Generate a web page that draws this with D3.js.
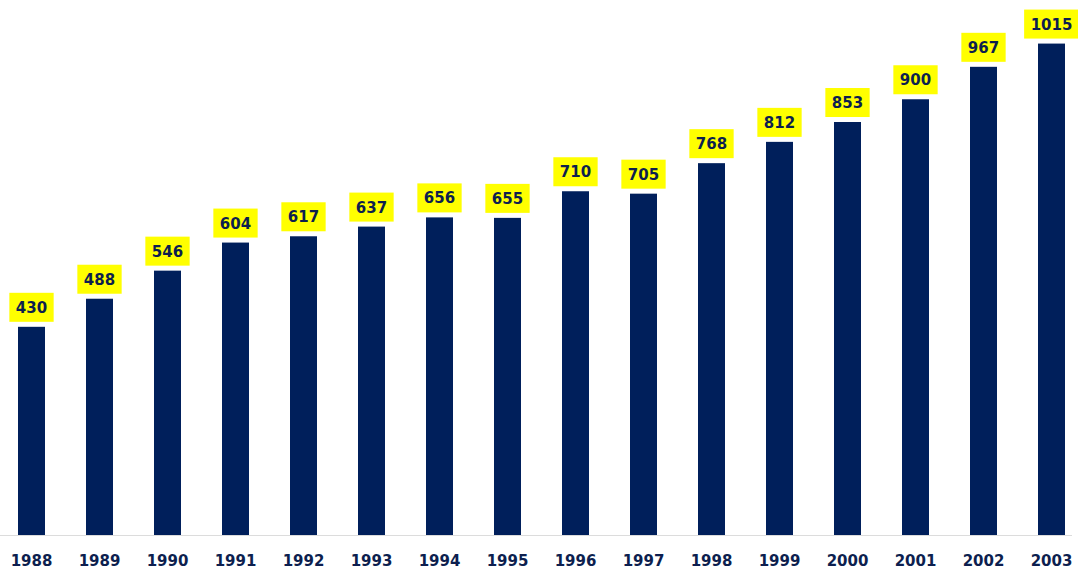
<!DOCTYPE html>
<html>
<head>
<meta charset="utf-8">
<script src="https://cdn.jsdelivr.net/npm/d3@7"></script>
<style>
  html, body { margin: 0; padding: 0; background: #ffffff; }
  svg { display: block; }
</style>
</head>
<body>
<svg id="chart" width="1078" height="571"></svg>
<script>
const years = ["1988","1989","1990","1991","1992","1993","1994","1995","1996","1997","1998","1999","2000","2001","2002","2003"];
const values = [430, 488, 546, 604, 617, 637, 656, 655, 710, 705, 768, 812, 853, 900, 967, 1015];

const W = 1078, H = 571;
const baseY = 535;
const barW = 27;
const barColor = "#001f5b";
const textColor = "#0d1f4f";
const font = "'DejaVu Sans', Verdana, sans-serif";

const svg = d3.select("#chart");

const x = d3.scalePoint().domain(years).range([31.5, 1051.5]);
const y = d3.scaleLinear().domain([0, 1105]).range([baseY, 0]);

// baseline
svg.append("line")
  .attr("x1", 0).attr("x2", 1072)
  .attr("y1", baseY + 0.5).attr("y2", baseY + 0.5)
  .attr("stroke", "#dcdcdc").attr("stroke-width", 1);

// bars
svg.selectAll("rect.bar").data(values).enter().append("rect")
  .attr("class", "bar")
  .attr("x", (d, i) => x(years[i]) - barW / 2)
  .attr("y", d => y(d))
  .attr("width", barW)
  .attr("height", d => baseY - y(d))
  .attr("fill", barColor);

// value labels with yellow boxes
const lab = svg.selectAll("g.lab").data(values).enter().append("g").attr("class", "lab");
lab.each(function(d, i) {
  const g = d3.select(this);
  const t = g.append("text")
    .attr("x", x(years[i]))
    .attr("y", y(d) - 5 - 14.5 + 5.5)
    .attr("text-anchor", "middle")
    .attr("font-family", font)
    .attr("font-weight", "bold")
    .attr("font-size", 15)
    .attr("fill", textColor)
    .text(d);
  const bw = t.node().getComputedTextLength() + 13;
  g.insert("rect", "text")
    .attr("x", x(years[i]) - bw / 2)
    .attr("y", y(d) - 5 - 29)
    .attr("width", bw)
    .attr("height", 29)
    .attr("fill", "#ffff00");
});

// x axis labels
svg.selectAll("text.year").data(years).enter().append("text")
  .attr("class", "year")
  .attr("x", d => x(d))
  .attr("y", 565.5)
  .attr("text-anchor", "middle")
  .attr("font-family", font)
  .attr("font-weight", "bold")
  .attr("font-size", 15)
  .attr("fill", textColor)
  .text(d => d);
</script>
</body>
</html>
